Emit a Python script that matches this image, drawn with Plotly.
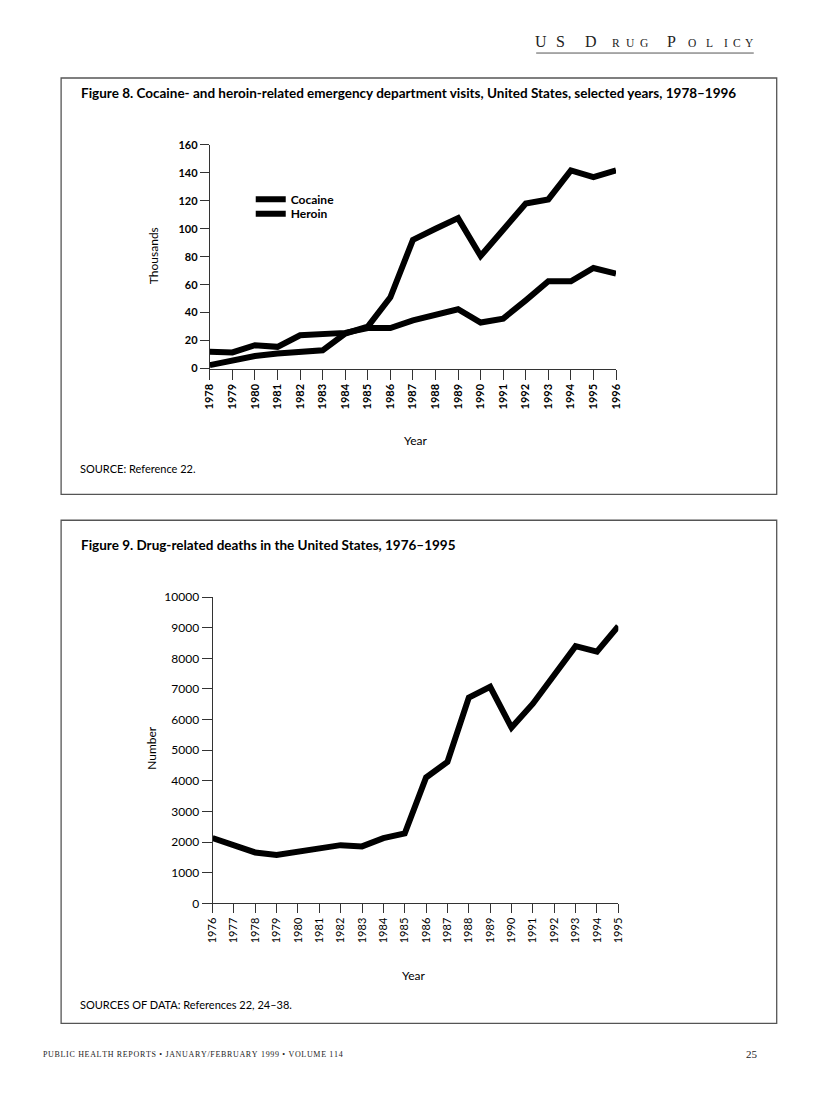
import plotly.graph_objects as go

# ---------------- data ----------------
years8 = list(range(1978, 1997))
cocaine = [2.4, 6, 9, 10.7, 12, 13, 25, 30, 51, 92, 100, 107.6, 80.5, 100, 118, 121, 141.7, 137, 141.7]
heroin = [12, 11.5, 16.7, 15.5, 23.8, 24.5, 25.5, 29, 29, 34.5, 38.6, 42.4, 32.9, 35.7, 48.8, 62.4, 62.4, 71.9, 67.9]

years9 = list(range(1976, 1996))
deaths = [2130, 1900, 1660, 1580, 1690, 1760, 1900, 1860, 2130, 2280, 4110, 4620, 6720, 7070, 5740, 6520, 7450, 8400, 8220, 9050]

ticks8 = [str(y) for y in years8]
ticks9 = [str(y) for y in years9]
yvals9 = list(range(0, 10001, 1000))
ytext9 = [str(v) for v in yvals9]

W, H = 816, 1100
SANS = "Lato"
SERIF = "Liberation Serif"

# page -> figure coordinate correction (page body margin / capture scaling)
SX, BX = 0.986, 13.8
SY, BY = 0.988, 13.9


def px(x):
    return ((x - BX) / SX) / W


def py(y):
    return 1 - ((y - BY) / SY) / H


fig = go.Figure()

fig.add_trace(go.Scatter(x=years8, y=cocaine, name="Cocaine", mode="lines",
                         line=dict(color="black", width=6), xaxis="x", yaxis="y",
                         legend="legend"))
fig.add_trace(go.Scatter(x=years8, y=heroin, name="Heroin", mode="lines",
                         line=dict(color="black", width=6), xaxis="x", yaxis="y",
                         legend="legend2"))
fig.add_trace(go.Scatter(x=years9, y=deaths, name="Deaths", mode="lines", showlegend=False,
                         line=dict(color="black", width=6), xaxis="x2", yaxis="y2"))

axis_common = dict(showgrid=False, zeroline=False, showline=True, linecolor="#333",
                   linewidth=1, ticks="outside", tickcolor="#333", tickwidth=1)

legend_font = dict(family=SANS, size=12, color="black", weight="bold")

fig.update_layout(
    width=W, height=H,
    margin=dict(l=0, r=0, t=0, b=0),
    paper_bgcolor="white", plot_bgcolor="white",
    showlegend=True,
    legend=dict(x=px(250), y=py(183), xanchor="left", yanchor="top",
                bgcolor="rgba(0,0,0,0)", font=legend_font),
    legend2=dict(x=px(250), y=py(197.5), xanchor="left", yanchor="top",
                 bgcolor="rgba(0,0,0,0)", font=legend_font),
    xaxis=dict(domain=[px(209), px(616)], range=[1978, 1996], anchor="y",
               tickmode="array", tickvals=years8, ticktext=ticks8, tickangle=-90,
               ticklen=10, tickfont=dict(family=SANS, size=11, color="black", weight="bold"),
               **axis_common),
    yaxis=dict(domain=[py(367), py(143)], range=[0, 160], anchor="x",
               tickmode="linear", tick0=0, dtick=20, ticklen=9,
               tickfont=dict(family=SANS, size=11, color="black", weight="bold"),
               **axis_common),
    xaxis2=dict(domain=[px(211.7), px(618.3)], range=[1976, 1995], anchor="y2",
                tickmode="array", tickvals=years9, ticktext=ticks9, tickangle=-90,
                ticklen=9, tickfont=dict(family=SANS, size=11, color="black"),
                **axis_common),
    yaxis2=dict(domain=[py(902.7), py(596)], range=[0, 10000], anchor="x2",
                tickmode="array", tickvals=yvals9, ticktext=ytext9, ticklen=10,
                tickfont=dict(family=SANS, size=12, color="black"),
                **axis_common),
)

shapes = []
# figure boxes
shapes.append(dict(type="rect", xref="paper", yref="paper", x0=px(60), x1=px(777),
                   y0=py(493), y1=py(76), line=dict(color="#555", width=1.3)))
shapes.append(dict(type="rect", xref="paper", yref="paper", x0=px(60), x1=px(777),
                   y0=py(1023), y1=py(519), line=dict(color="#555", width=1.3)))
# header underline
shapes.append(dict(type="line", xref="paper", yref="paper", x0=px(536), x1=px(754),
                   y0=py(51), y1=py(51), line=dict(color="#555", width=1)))
fig.update_layout(shapes=shapes)

ann = []


def text(x, y, s, size, family=SANS, bold=False, xanchor="left", yanchor="middle",
         color="black", angle=0):
    ann.append(dict(x=px(x), y=py(y), xref="paper", yref="paper", text=s,
                    showarrow=False, xanchor=xanchor, yanchor=yanchor, textangle=angle,
                    font=dict(family=family, size=size, color=color,
                              weight="bold" if bold else "normal")))


# header: small caps, widely spaced
header = [("U", 541, True), ("S", 560, True), ("D", 590.5, True), ("R", 615.5, False),
          ("U", 630.5, False), ("G", 644, False), ("P", 671.5, True), ("O", 692.5, False),
          ("L", 709.5, False), ("I", 726, False), ("C", 737.5, False), ("Y", 750, False)]
for ch, cx, big in header:
    if big:
        text(cx, 50, ch, 16, family=SERIF, xanchor="center", yanchor="bottom", color="#222")
    else:
        text(cx, 48.5, ch, 11.5, family=SERIF, xanchor="center", yanchor="bottom", color="#222")

# titles
text(78, 91.5, "Figure 8. Cocaine- and heroin-related emergency department visits, United States, selected years, 1978\u20131996",
     13.5, bold=True)
text(78, 543.5, "Figure 9. Drug-related deaths in the United States, 1976\u20131995", 13.5, bold=True)

# axis titles
text(152.5, 254, "Thousands", 12, xanchor="center", angle=-90)
text(415, 439, "Year", 12, xanchor="center")
text(151, 747, "Number", 12, xanchor="center", angle=-90)
text(413, 975, "Year", 12, xanchor="center")

# sources
text(77, 467, "SOURCE: Reference 22.", 11)
text(77, 1004, "SOURCES OF DATA: References 22, 24\u201338.", 11)

# footer
footer = "PUBLIC HEALTH REPORTS \u2022 JANUARY/FEBRUARY 1999 \u2022 VOLUME 114"
footer_spaced = "\u200a".join(footer)
text(40, 1054, footer_spaced, 8, family=SERIF, color="#222")
text(760, 1054, "25", 11, family=SERIF, xanchor="right", color="#222")

fig.update_layout(annotations=ann)

fig.write_html("out.html")
